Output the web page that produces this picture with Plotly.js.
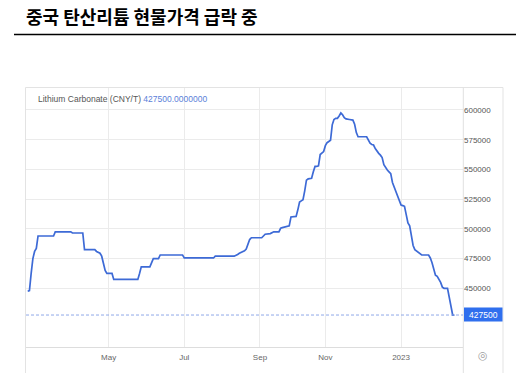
<!DOCTYPE html>
<html><head><meta charset="utf-8">
<script src="https://cdn.plot.ly/plotly-3.0.1.min.js"></script>
<style>html,body{margin:0;padding:0;background:#fff;}</style>
</head><body><div id="chart" style="width:516px;height:373px;"></div>
<script>
const chartTitle = "중국 탄산리튬 현물가격 급락 중";
const seriesName = "Lithium Carbonate (CNY/T)";
const dates = [
"2022-02-24","2022-02-25","2022-02-28","2022-03-01","2022-03-02","2022-03-03","2022-03-04","2022-03-17","2022-03-18","2022-03-31",
"2022-04-01","2022-04-11","2022-04-12","2022-04-20","2022-04-21","2022-04-22","2022-04-25","2022-04-26","2022-04-27","2022-04-28",
"2022-04-29","2022-05-04","2022-05-05","2022-05-25","2022-05-26","2022-05-27","2022-06-03","2022-06-06","2022-06-07","2022-06-10",
"2022-06-13","2022-06-30","2022-07-01","2022-07-26","2022-07-27","2022-08-11","2022-08-12","2022-08-15","2022-08-16","2022-08-17",
"2022-08-18","2022-08-19","2022-08-22","2022-08-23","2022-08-24","2022-08-25","2022-09-02","2022-09-05","2022-09-06","2022-09-09",
"2022-09-12","2022-09-13","2022-09-16","2022-09-19","2022-09-20","2022-09-21","2022-09-22","2022-09-23","2022-09-26","2022-09-27",
"2022-09-30","2022-10-10","2022-10-11","2022-10-12","2022-10-13","2022-10-14","2022-10-17","2022-10-18","2022-10-20","2022-10-21",
"2022-10-24","2022-10-25","2022-10-26","2022-10-27","2022-10-28","2022-10-31","2022-11-01","2022-11-02","2022-11-03","2022-11-04",
"2022-11-07","2022-11-08","2022-11-09","2022-11-10","2022-11-11","2022-11-14","2022-11-15","2022-11-16","2022-11-17","2022-11-18",
"2022-11-21","2022-11-23","2022-11-24","2022-11-25","2022-11-28","2022-12-05","2022-12-06","2022-12-07","2022-12-08","2022-12-09",
"2022-12-12","2022-12-13","2022-12-14","2022-12-15","2022-12-16","2022-12-19","2022-12-20","2022-12-21","2022-12-22","2022-12-23",
"2022-12-26","2022-12-27","2022-12-28","2022-12-29","2022-12-30","2023-01-02","2023-01-03","2023-01-04","2023-01-05","2023-01-06",
"2023-01-09","2023-01-10","2023-01-11","2023-01-12","2023-01-13","2023-01-16","2023-01-17","2023-01-18","2023-01-24","2023-01-25",
"2023-01-26","2023-01-27","2023-01-30","2023-01-31","2023-02-01","2023-02-02","2023-02-03","2023-02-06","2023-02-08","2023-02-09",
"2023-02-10","2023-02-13","2023-02-14"
];
const prices = [
447500,448000,462500,475000,481000,483500,494000,494000,497500,497500,
496500,496500,482500,482500,481000,480000,479500,477000,472000,465000,
462500,462500,457500,457500,462500,468000,468000,472000,475000,475000,
478000,478000,475500,475500,477000,477000,477500,478500,479500,480000,
481000,481500,483000,487500,491000,492500,492500,494000,495500,496000,
497000,497500,497500,500500,501000,501500,502000,502500,502500,510000,
510500,516000,522500,523500,524500,532000,541000,542000,542500,548000,
552500,552500,553000,562500,564000,565000,570000,572500,573500,574500,
587500,592000,593000,593000,595000,597500,596000,593500,592500,592000,
592000,591500,588000,581000,577500,577500,575000,572000,571000,570500,
567500,565000,563500,562000,560000,554000,551500,549500,548000,546500,
539000,535000,531500,528000,523000,520000,519500,519000,512000,505000,
502500,492500,486000,482500,481500,480500,479000,478000,478000,475500,
471500,466000,461000,460000,458000,455000,451000,450000,450000,442000,
433000,427500,427500
];
const lastValue = 427500;
const lastValueText = "427500.0000000";
const tickDates = ["2022-05-02","2022-07-01","2022-09-01","2022-11-01","2023-01-02"];
const tickLabels = ["May","Jul","Sep","Nov","2023"];
const yTicks = [450000,475000,500000,525000,550000,575000,600000];
const holidays = ["2022-10-03","2022-10-04","2022-10-05","2022-10-06","2022-10-07"];

const W = 516, H = 373, L = 26, R = 463, T = 88, B = 347;
const px = v => (v - L) / (R - L);
const py = v => (B - v) / (B - T);

const trace = {
  x: dates, y: prices, type: 'scatter', mode: 'lines',
  line: {color: '#3d6ad6', width: 1.7}, hoverinfo: 'skip'
};

const layout = {
  width: W, height: H,
  margin: {l: L, r: W - R, t: T, b: H - B, pad: 0},
  paper_bgcolor: '#ffffff', plot_bgcolor: '#ffffff',
  showlegend: false,
  font: {family: 'Liberation Sans, Arial, sans-serif', color: '#666666', size: 8},
  title: {
    text: '<b>' + chartTitle + '</b>',
    x: 26 / W, xanchor: 'left', xref: 'container',
    y: 1 - 18 / H, yanchor: 'middle', yref: 'container',
    pad: {t: 0, b: 0, l: 0, r: 0},
    font: {family: 'Noto Sans CJK KR, sans-serif', size: 18, color: '#000000'}
  },
  xaxis: {
    type: 'date',
    range: ['2022-02-23', '2023-02-21'],
    rangebreaks: [{bounds: ['sat', 'mon']}, {values: holidays}],
    tickmode: 'array', tickvals: tickDates, ticktext: tickLabels,
    showgrid: true, gridcolor: '#ebebeb', gridwidth: 1,
    showline: true, linecolor: '#dddddd', linewidth: 1,
    ticks: 'outside', ticklen: 2, tickcolor: 'rgba(0,0,0,0)', zeroline: false,
    tickfont: {size: 8, color: '#666666'}
  },
  yaxis: {
    side: 'right',
    range: [400600, 618500],
    tickmode: 'array', tickvals: yTicks, tickformat: 'd',
    showgrid: true, gridcolor: '#ebebeb', gridwidth: 1,
    showline: false, ticks: '',
    zeroline: false,
    tickfont: {size: 8, color: '#555555'}
  },
  shapes: [
    {type: 'line', xref: 'paper', yref: 'paper', x0: px(14), x1: px(516), y0: py(34.5), y1: py(34.5),
     line: {color: '#000000', width: 1.5}},
    {type: 'line', xref: 'paper', yref: 'paper', x0: px(25.5), x1: px(25.5), y0: py(87.5), y1: py(373),
     line: {color: '#e3e3e3', width: 1}},
    {type: 'line', xref: 'paper', yref: 'paper', x0: px(25.5), x1: px(503), y0: py(87.5), y1: py(87.5),
     line: {color: '#e3e3e3', width: 1}},
    {type: 'line', xref: 'paper', yref: 'paper', x0: px(503), x1: px(503), y0: py(87.5), y1: py(373),
     line: {color: '#e3e3e3', width: 1}},
    {type: 'line', xref: 'paper', yref: 'paper', x0: px(463.3), x1: px(463.3), y0: py(87.5), y1: py(373),
     line: {color: '#e0e0e0', width: 1}},
    {type: 'rect', xref: 'paper', yref: 'paper', layer: 'between', x0: px(26.5), x1: px(252), y0: py(88), y1: py(109),
     fillcolor: '#ffffff', line: {width: 0}},
    {type: 'line', xref: 'paper', yref: 'y', x0: 0, x1: 1, y0: lastValue, y1: lastValue,
     line: {color: '#8fa8e8', width: 1, dash: '3px,2px'}},
    {type: 'rect', xref: 'paper', yref: 'paper', x0: px(464), x1: px(502.5), y0: py(307.5), y1: py(321.5),
     fillcolor: '#2f6fee', line: {width: 0}}
  ],
  annotations: [
    {xref: 'paper', yref: 'paper', x: px(36), y: py(98.5), xanchor: 'left', yanchor: 'middle',
     showarrow: false, font: {size: 8.5, color: '#555555'},
     text: seriesName + ' <span style="color:#5b7fd9">' + lastValueText + '</span>'},
    {xref: 'paper', yref: 'y', x: px(483), y: lastValue, xanchor: 'center', yanchor: 'middle',
     showarrow: false, font: {size: 8.5, color: '#ffffff'}, text: String(lastValue)},
    {xref: 'paper', yref: 'paper', x: px(483.5), y: py(355), xanchor: 'center', yanchor: 'middle',
     showarrow: false, font: {size: 11, color: '#a0a0a0', family: 'DejaVu Sans'}, text: '◎'}
  ]
};

Plotly.newPlot('chart', [trace], layout, {displayModeBar: false, staticPlot: true});
</script></body></html>
